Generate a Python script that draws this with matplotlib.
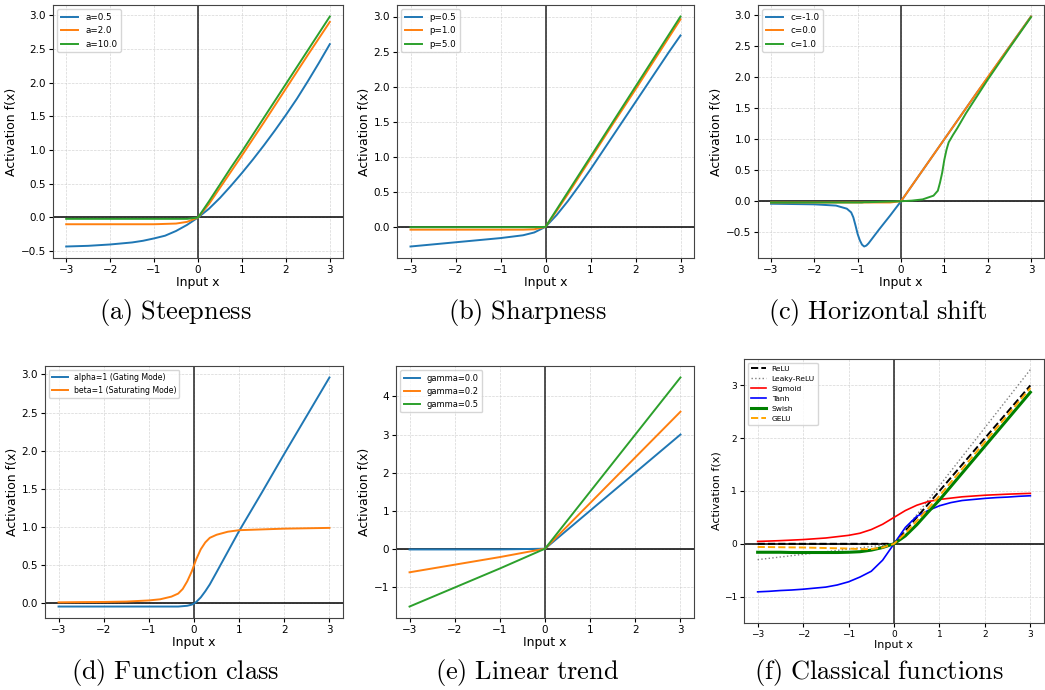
import matplotlib
matplotlib.use('Agg')
import matplotlib.pyplot as plt

plt.rcParams['mathtext.fontset'] = 'cm'

# valores, x de 0.25 em 0.25 (comum aos paineis a, b, f)
x_q = [-3, -2.75, -2.5, -2.25, -2, -1.75, -1.5, -1.25, -1, -0.75, -0.5, -0.25, 0,
       0.25, 0.5, 0.75, 1, 1.25, 1.5, 1.75, 2, 2.25, 2.5, 2.75, 3]

# (a) Steepness
a_labels = ['a=0.5', 'a=2.0', 'a=10.0']
a_05 = [-0.43, -0.425, -0.42, -0.41, -0.40, -0.385, -0.37, -0.345, -0.31, -0.27, -0.20, -0.11, 0,
        0.13, 0.29, 0.47, 0.66, 0.86, 1.07, 1.29, 1.52, 1.76, 2.02, 2.29, 2.57]
a_2 = [-0.10, -0.10, -0.10, -0.10, -0.10, -0.10, -0.10, -0.10, -0.10, -0.095, -0.09, -0.065, 0,
       0.20, 0.44, 0.68, 0.92, 1.165, 1.41, 1.66, 1.91, 2.16, 2.41, 2.655, 2.90]
a_10 = [-0.02, -0.02, -0.02, -0.02, -0.02, -0.02, -0.02, -0.02, -0.02, -0.02, -0.02, -0.02, 0,
        0.24, 0.49, 0.74, 0.98, 1.23, 1.48, 1.73, 1.98, 2.23, 2.48, 2.73, 2.98]

# (b) Sharpness
p_labels = ['p=0.5', 'p=1.0', 'p=5.0']
p_05 = [-0.28, -0.265, -0.25, -0.235, -0.22, -0.205, -0.19, -0.175, -0.16, -0.14, -0.12, -0.08, 0,
        0.17, 0.37, 0.59, 0.82, 1.06, 1.30, 1.54, 1.78, 2.02, 2.26, 2.50, 2.73]
p_1 = [-0.04, -0.04, -0.04, -0.04, -0.04, -0.04, -0.04, -0.04, -0.04, -0.04, -0.04, -0.035, 0,
       0.23, 0.47, 0.72, 0.97, 1.22, 1.47, 1.715, 1.96, 2.21, 2.46, 2.71, 2.96]
p_5 = [-0.005, -0.005, -0.005, -0.005, -0.005, -0.005, -0.005, -0.005, -0.005, -0.005, -0.005, -0.005, 0,
       0.25, 0.50, 0.75, 1.0, 1.25, 1.5, 1.75, 2.0, 2.25, 2.5, 2.75, 3.0]

# (c) Horizontal shift
x_c = [-3, -2.5, -2, -1.5, -1.25, -1.15, -1.1, -1.05, -1.0, -0.95, -0.9, -0.85, -0.8, -0.75, -0.5, -0.25,
       0, 0.25, 0.5, 0.75, 0.85, 0.9, 0.95, 1.0, 1.05, 1.1, 1.2, 1.3, 1.5, 1.75, 2, 2.5, 3]
c_labels = ['c=-1.0', 'c=0.0', 'c=1.0']
c_m1 = [-0.04, -0.045, -0.05, -0.07, -0.12, -0.18, -0.26, -0.39, -0.53, -0.63, -0.70, -0.73, -0.715, -0.68, -0.45, -0.23,
        0, 0.25, 0.5, 0.75, 0.85, 0.9, 0.95, 1.0, 1.05, 1.1, 1.2, 1.3, 1.5, 1.75, 1.99, 2.49, 2.98]
c_0 = [-0.02, -0.02, -0.02, -0.02, -0.02, -0.02, -0.02, -0.02, -0.02, -0.02, -0.02, -0.02, -0.02, -0.02, -0.02, -0.02,
       0, 0.25, 0.5, 0.75, 0.85, 0.9, 0.95, 1.0, 1.05, 1.1, 1.2, 1.3, 1.5, 1.75, 2.0, 2.49, 2.98]
c_1 = [-0.02, -0.02, -0.02, -0.02, -0.02, -0.02, -0.02, -0.02, -0.02, -0.02, -0.02, -0.015, -0.015, -0.015, -0.01, -0.005,
       0, 0.01, 0.03, 0.09, 0.17, 0.30, 0.46, 0.67, 0.83, 0.95, 1.07, 1.18, 1.42, 1.69, 1.96, 2.47, 2.97]

# (d) Function class
x_d = [-3, -2.5, -2, -1.5, -1, -0.75, -0.5, -0.35, -0.25, -0.15, -0.05, 0, 0.05, 0.15, 0.25, 0.35,
       0.5, 0.75, 1, 1.5, 2, 2.5, 3]
d_labels = ['alpha=1 (Gating Mode)', 'beta=1 (Saturating Mode)']
alpha_1 = [-0.04, -0.04, -0.04, -0.04, -0.04, -0.04, -0.04, -0.04, -0.035, -0.03, -0.015, 0.0, 0.02, 0.08, 0.16, 0.25,
           0.41, 0.68, 0.95, 1.45, 1.96, 2.46, 2.96]
beta_1 = [0.015, 0.018, 0.02, 0.025, 0.04, 0.055, 0.09, 0.13, 0.19, 0.29, 0.42, 0.5, 0.58, 0.71, 0.80, 0.86,
          0.90, 0.94, 0.96, 0.97, 0.98, 0.985, 0.99]

# (e) Linear trend
x_e = [-3, -2, -1, 0, 1, 2, 3]
g_labels = ['gamma=0.0', 'gamma=0.2', 'gamma=0.5']
g_0 = [-0.02, -0.02, -0.02, 0, 1.0, 2.0, 3.0]
g_02 = [-0.62, -0.42, -0.22, 0, 1.2, 2.4, 3.6]
g_05 = [-1.52, -1.02, -0.52, 0, 1.5, 3.0, 4.5]

# (f) Classical functions
f_labels = ['ReLU', 'Leaky-ReLU', 'Sigmoid', 'Tanh', 'Swish', 'GELU']
relu = [0, 0, 0, 0, 0, 0, 0, 0, 0, 0, 0, 0, 0,
        0.25, 0.5, 0.75, 1.0, 1.25, 1.5, 1.75, 2.0, 2.25, 2.5, 2.75, 3.0]
leaky = [-0.3, -0.275, -0.25, -0.225, -0.2, -0.175, -0.15, -0.125, -0.1, -0.075, -0.05, -0.025, 0,
         0.275, 0.55, 0.825, 1.1, 1.375, 1.65, 1.925, 2.2, 2.475, 2.75, 3.025, 3.3]
sigmoid = [0.045, 0.052, 0.06, 0.07, 0.08, 0.095, 0.11, 0.135, 0.16, 0.20, 0.27, 0.37, 0.5,
           0.63, 0.73, 0.80, 0.84, 0.865, 0.89, 0.905, 0.92, 0.93, 0.94, 0.948, 0.955]
tanh = [-0.91, -0.90, -0.885, -0.875, -0.86, -0.84, -0.82, -0.78, -0.72, -0.63, -0.52, -0.31, 0,
        0.31, 0.52, 0.63, 0.72, 0.78, 0.82, 0.84, 0.86, 0.875, 0.885, 0.90, 0.91]
swish = [-0.16, -0.16, -0.16, -0.165, -0.165, -0.165, -0.165, -0.165, -0.16, -0.15, -0.12, -0.07, 0,
         0.15, 0.36, 0.60, 0.83, 1.085, 1.34, 1.595, 1.85, 2.105, 2.36, 2.615, 2.87]
gelu = [-0.06, -0.062, -0.065, -0.068, -0.07, -0.075, -0.08, -0.085, -0.09, -0.10, -0.10, -0.07, 0,
        0.20, 0.43, 0.67, 0.91, 1.165, 1.42, 1.675, 1.93, 2.185, 2.44, 2.695, 2.95]

captions = ['(a)\\ Steepness', '(b)\\ Sharpness', '(c)\\ Horizontal\\ shift',
            '(d)\\ Function\\ class', '(e)\\ Linear\\ trend', '(f)\\ Classical\\ functions']

W, H = 1045, 690
fig = plt.figure(figsize=(W / 100, H / 100), dpi=100)


def make_ax(l, t, r, b):
    # caixa em pixels -> fracao da figura
    return fig.add_axes([l / W, 1 - b / H, (r - l) / W, (b - t) / H])


def style(ax, tick_fs=7.5, label_fs=9, leg_fs=6.3):
    ax.axhline(0, color='k', lw=1.1, zorder=1.8)
    ax.axvline(0, color='#222222', lw=1.1, zorder=1.8)
    ax.grid(True, ls='--', lw=0.5, color='#cccccc', alpha=0.8)
    ax.set_xlabel('Input x', fontsize=label_fs, labelpad=1)
    ax.set_ylabel('Activation f(x)', fontsize=label_fs, labelpad=2)
    ax.tick_params(labelsize=tick_fs, length=3, pad=2)
    ax.set_xticks([-3, -2, -1, 0, 1, 2, 3])
    for s in ax.spines.values():
        s.set_color('#444444')
    ax.legend(loc='upper left', fontsize=leg_fs, handlelength=2.0)


axes_px = [(53, 5, 343, 258), (397, 5, 694, 258), (758, 5, 1044, 258),
           (45, 366, 343, 618), (396, 366, 694, 618), (744, 359, 1044, 623)]
axs = [make_ax(*p) for p in axes_px]

ax = axs[0]
for y, lab in zip([a_05, a_2, a_10], a_labels):
    ax.plot(x_q, y, lw=1.4, label=lab)
style(ax)

ax = axs[1]
for y, lab in zip([p_05, p_1, p_5], p_labels):
    ax.plot(x_q, y, lw=1.4, label=lab)
style(ax)
ax.set_yticks([0, 0.5, 1.0, 1.5, 2.0, 2.5, 3.0])

ax = axs[2]
for y, lab in zip([c_m1, c_0, c_1], c_labels):
    ax.plot(x_c, y, lw=1.4, label=lab)
style(ax)

ax = axs[3]
for y, lab in zip([alpha_1, beta_1], d_labels):
    ax.plot(x_d, y, lw=1.4, label=lab)
style(ax, leg_fs=5.6)

ax = axs[4]
for y, lab in zip([g_0, g_02, g_05], g_labels):
    ax.plot(x_e, y, lw=1.4, label=lab)
style(ax, leg_fs=6.0)

ax = axs[5]
ax.plot(x_q, relu, 'k--', lw=1.4, label=f_labels[0])
ax.plot(x_q, leaky, color='gray', ls=':', lw=1.0, label=f_labels[1])
ax.plot(x_q, sigmoid, color='red', lw=1.2, label=f_labels[2])
ax.plot(x_q, tanh, color='blue', lw=1.2, label=f_labels[3])
ax.plot(x_q, swish, color='green', lw=2.2, label=f_labels[4])
ax.plot(x_q, gelu, color='orange', ls='--', lw=1.4, label=f_labels[5])
style(ax, tick_fs=6.5, label_fs=8.0, leg_fs=5.4)
ax.set_ylim(-1.5, 3.5)
ax.set_yticks([-1, 0, 1, 2, 3])

# legendas das figuras (estilo LaTeX)
cap_pos = [(175, 312), (527, 312), (878, 312), (175, 672), (527, 672), (879, 672)]
for (cx, cy), cap in zip(cap_pos, captions):
    fig.text(cx / W, 1 - cy / H, '$\\mathrm{' + cap + '}$', fontsize=19, ha='center', va='center')

fig.savefig('out.png', dpi=100)
